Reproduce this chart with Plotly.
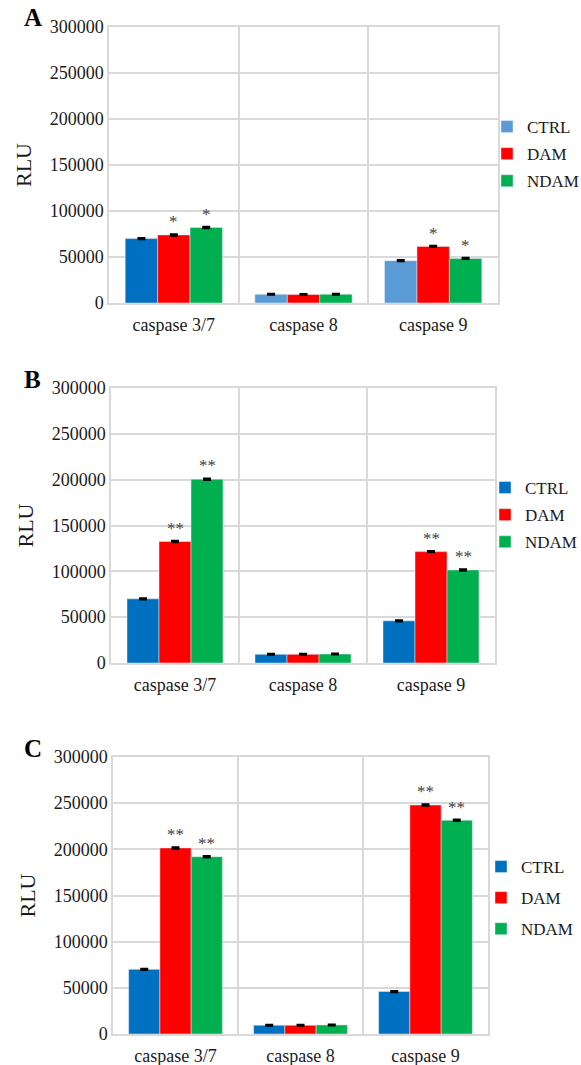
import plotly.graph_objects as go

# Caspase activity (RLU) per assay, three treatment panels
categories = ["caspase 3/7", "caspase 8", "caspase 9"]
groups = ["CTRL", "DAM", "NDAM"]

ctrl_a = [70000, 9500, 46000]
dam_a = [74000, 9200, 61500]
ndam_a = [82000, 9500, 48500]
ctrl_a_err = [600, 500, 700]
dam_a_err = [800, 500, 700]
ndam_a_err = [800, 500, 700]
sig_a = [["", "*", "*"], ["", "", ""], ["", "*", "*"]]

ctrl_b = [70000, 9500, 46000]
dam_b = [132500, 9500, 121500]
ndam_b = [200500, 9800, 101500]
ctrl_b_err = [600, 500, 700]
dam_b_err = [800, 500, 800]
ndam_b_err = [800, 500, 800]
sig_b = [["", "**", "**"], ["", "", ""], ["", "**", "**"]]

ctrl_c = [70000, 9500, 46000]
dam_c = [201500, 9500, 248000]
ndam_c = [192000, 9800, 231500]
ctrl_c_err = [600, 500, 700]
dam_c_err = [800, 500, 800]
ndam_c_err = [800, 500, 800]
sig_c = [["", "**", "**"], ["", "", ""], ["", "**", "**"]]

panel_labels = ["A", "B", "C"]

DARK_BLUE = "#0070C0"
LIGHT_BLUE = "#5B9BD5"
RED = "#FF0000"
GREEN = "#00B050"
GRID = "#D9D9D9"
FONT = "Liberation Serif, Tinos, Times New Roman, serif"

W, H = 581, 1065
# plot-area boxes in pixels: left, right, top, bottom
boxes = [(109, 498, 27, 303), (111, 495, 388, 663), (113, 488, 757, 1034)]
legend_rows = [154, 515, 898]
legend_gap = [2, 2, 6]
legend_left = [487, 485, 481]

BARGAP = 0.25
BAR_W = (1 - BARGAP) / 3

fig = go.Figure()

panels = [
    (ctrl_a, dam_a, ndam_a, ctrl_a_err, dam_a_err, ndam_a_err, sig_a),
    (ctrl_b, dam_b, ndam_b, ctrl_b_err, dam_b_err, ndam_b_err, sig_b),
    (ctrl_c, dam_c, ndam_c, ctrl_c_err, dam_c_err, ndam_c_err, sig_c),
]

annotations = []
for p, (ctrl, dam, ndam, ce, de, ne, sig) in enumerate(panels):
    sfx = "" if p == 0 else str(p + 1)
    xa, ya = "x" + sfx, "y" + sfx
    leg = "legend" + sfx
    err = dict(type="data", thickness=2, width=4, color="#000000")

    if p == 0:
        # first panel: CTRL bar of caspase 3/7 in dark blue, the rest light blue
        fig.add_trace(go.Bar(
            x=categories[1:], y=ctrl[1:], name="CTRL", marker_color=LIGHT_BLUE,
            error_y=dict(err, array=ce[1:]), offsetgroup="ctrl",
            xaxis=xa, yaxis=ya, legend=leg, legendgroup="ctrl" + sfx))
        fig.add_trace(go.Bar(
            x=categories[:1], y=ctrl[:1], name="CTRL", marker_color=DARK_BLUE,
            error_y=dict(err, array=ce[:1]), offsetgroup="ctrl", showlegend=False,
            xaxis=xa, yaxis=ya, legend=leg))
    else:
        fig.add_trace(go.Bar(
            x=categories, y=ctrl, name="CTRL", marker_color=DARK_BLUE,
            error_y=dict(err, array=ce), offsetgroup="ctrl",
            xaxis=xa, yaxis=ya, legend=leg, legendgroup="ctrl" + sfx))
    fig.add_trace(go.Bar(
        x=categories, y=dam, name="DAM", marker_color=RED,
        error_y=dict(err, array=de), offsetgroup="dam",
        xaxis=xa, yaxis=ya, legend=leg, legendgroup="dam" + sfx))
    fig.add_trace(go.Bar(
        x=categories, y=ndam, name="NDAM", marker_color=GREEN,
        error_y=dict(err, array=ne), offsetgroup="ndam",
        xaxis=xa, yaxis=ya, legend=leg, legendgroup="ndam" + sfx))

    # significance marks above bars
    series = [(ctrl, ce), (dam, de), (ndam, ne)]
    for i in range(len(categories)):
        for j, (vals, errs) in enumerate(series):
            mark = sig[i][j]
            if mark:
                annotations.append(dict(
                    x=i + (j - 1) * BAR_W, y=vals[i] + errs[i], xref=xa, yref=ya,
                    text=mark, showarrow=False, yanchor="bottom", yshift=1,
                    font=dict(family=FONT, size=17, color="#404040")))

    l, r, t, b = boxes[p]
    axis_common = dict(showline=True, mirror=True, linecolor=GRID, linewidth=1.5,
                       showgrid=True, gridcolor=GRID, gridwidth=1.5, zeroline=False,
                       ticks="", tickfont=dict(family=FONT, size=18, color="#1a1a1a"))
    fig.update_layout({
        "xaxis" + sfx: dict(axis_common, type="category", tickson="boundaries",
                            categoryorder="array", categoryarray=categories,
                            domain=[l / W, r / W], anchor=ya, ticklabelstandoff=5),
        "yaxis" + sfx: dict(axis_common, range=[0, 300000], dtick=50000, tickformat="d",
                            domain=[1 - b / H, 1 - t / H], anchor=xa, ticklabelstandoff=0,
                            title=dict(text="RLU", standoff=12,
                                       font=dict(family=FONT, size=22, color="#1a1a1a"))),
        leg: dict(x=legend_left[p] / W, xanchor="left", y=1 - legend_rows[p] / H,
                  yanchor="middle", bgcolor="rgba(0,0,0,0)", tracegroupgap=legend_gap[p],
                  itemwidth=30, font=dict(family=FONT, size=17, color="#1a1a1a")),
    })

    annotations.append(dict(
        x=22 / W, y=1 - (t - 9) / H, xref="paper", yref="paper", xanchor="left",
        yanchor="middle", text="<b>%s</b>" % panel_labels[p], showarrow=False,
        font=dict(family=FONT, size=25, color="#000000")))

fig.update_layout(
    width=W, height=H, margin=dict(l=0, r=0, t=0, b=0, autoexpand=False),
    paper_bgcolor="white", plot_bgcolor="white",
    barmode="group", bargap=BARGAP, bargroupgap=0,
    annotations=annotations,
    font=dict(family=FONT),
)

fig.write_html("out.html")
